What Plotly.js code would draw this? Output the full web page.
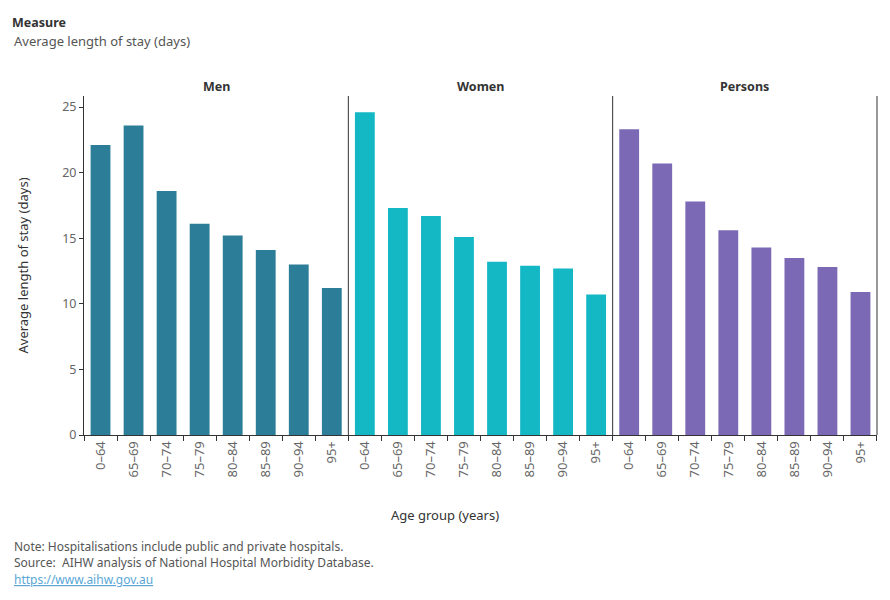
<!DOCTYPE html>
<html><head><meta charset="utf-8">
<script src="https://cdn.plot.ly/plotly-3.0.1.min.js"></script>
<style>body{margin:0;background:#fff}#chart{width:890px;height:600px}</style>
</head><body><div id="chart"></div>
<script>
const ageGroups = ["0–64","65–69","70–74","75–79","80–84","85–89","90–94","95+"];
const panels = ["Men","Women","Persons"];
const menValues = [22.1, 23.6, 18.6, 16.1, 15.2, 14.1, 13.0, 11.2];
const womenValues = [24.6, 17.3, 16.7, 15.1, 13.2, 12.9, 12.7, 10.7];
const personsValues = [23.3, 20.7, 17.8, 15.6, 14.3, 13.5, 12.8, 10.9];
const panelColors = ["#2c7d97", "#14b8c4", "#7b69b5"];
const yTicks = [0, 5, 10, 15, 20, 25];

const FONT = "Noto Sans, sans-serif";
const seriesValues = [menValues, womenValues, personsValues];
const axisIds = ["x", "x2", "x3"];

const data = seriesValues.map((vals, i) => ({
  type: "bar",
  x: ageGroups,
  y: vals,
  xaxis: axisIds[i],
  yaxis: "y",
  marker: {color: panelColors[i]},
  name: panels[i],
  hoverinfo: "x+y"
}));

function xAxis(domain) {
  return {
    domain: domain,
    type: "category",
    categoryorder: "array",
    categoryarray: ageGroups,
    showline: true,
    linecolor: "#333",
    linewidth: 1,
    ticks: "outside",
    tickson: "boundaries",
    ticklen: 5,
    tickcolor: "#333",
    tickangle: -90,
    tickfont: {family: FONT, size: 13, color: "#666"},
    showgrid: false,
    zeroline: false,
    anchor: "y",
    fixedrange: true
  };
}

const left = -84 / 793;
const layout = {
  width: 890, height: 600,
  margin: {l: 84, r: 13, t: 96, b: 165},
  paper_bgcolor: "#fff", plot_bgcolor: "#fff",
  showlegend: false,
  bargap: 0.4,
  font: {family: FONT, color: "#333"},
  xaxis: xAxis([0, 1/3]),
  xaxis2: xAxis([1/3, 2/3]),
  xaxis3: xAxis([2/3, 1]),
  yaxis: {
    range: [0, 25.84],
    tickvals: yTicks,
    showline: true, linecolor: "#333", linewidth: 1,
    ticks: "outside", ticklen: 4, tickcolor: "#333",
    tickfont: {family: FONT, size: 12.5, color: "#666"},
    showgrid: false, zeroline: false,
    title: {text: "Average length of stay (days)", font: {family: FONT, size: 13, color: "#333"}, standoff: 30},
    fixedrange: true
  },
  shapes: [1/3, 2/3, 1].map(x => ({
    type: "line", xref: "paper", yref: "paper", x0: x, x1: x, y0: 0, y1: 1,
    line: {color: "#333", width: 1}
  })),
  annotations: [
    ...panels.map((p, i) => ({
      text: "<b>" + p + "</b>", xref: "paper", yref: "paper",
      x: (i + 0.5) / 3, y: 1, xanchor: "center", yanchor: "bottom", yshift: -1, showarrow: false,
      font: {family: FONT, size: 12.5, color: "#333"}
    })),
    {text: "Age group (years)", xref: "paper", yref: "paper", x: (445 - 84) / 793, y: 0,
     yshift: -80, xanchor: "center", yanchor: "middle", showarrow: false,
     font: {family: FONT, size: 13, color: "#333"}},
    {text: "<b>Measure</b>", xref: "paper", yref: "paper", x: left, y: 1, xanchor: "left", yanchor: "middle",
     xshift: 10, yshift: 74, showarrow: false, font: {family: FONT, size: 12.5, color: "#333"}},
    {text: "Average length of stay (days)", xref: "paper", yref: "paper", x: left, y: 1, xanchor: "left", yanchor: "middle",
     xshift: 12, yshift: 55, showarrow: false, font: {family: FONT, size: 13, color: "#555"}},
    {text: "Note: Hospitalisations include public and private hospitals.", xref: "paper", yref: "paper", x: left, y: 0,
     xanchor: "left", yanchor: "middle", xshift: 12, yshift: -111, showarrow: false, font: {family: FONT, size: 12, color: "#555"}},
    {text: "Source:  AIHW analysis of National Hospital Morbidity Database.", xref: "paper", yref: "paper", x: left, y: 0,
     xanchor: "left", yanchor: "middle", xshift: 12, yshift: -127, showarrow: false, font: {family: FONT, size: 12, color: "#555"}},
    {text: "<u>https://www.aihw.gov.au</u>", xref: "paper", yref: "paper", x: left, y: 0,
     xanchor: "left", yanchor: "middle", xshift: 12, yshift: -144, showarrow: false, font: {family: FONT, size: 12, color: "#5aa7d6"}}
  ]
};

Plotly.newPlot("chart", data, layout, {displayModeBar: false, staticPlot: true});
</script>
</body></html>
